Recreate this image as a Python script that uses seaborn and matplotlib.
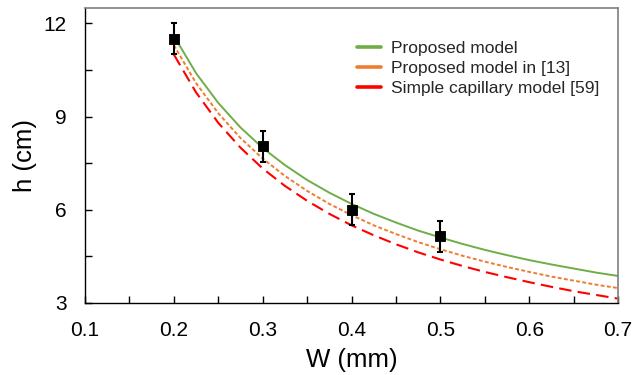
import matplotlib
matplotlib.use("Agg")
import matplotlib.pyplot as plt
import seaborn as sns
import pandas as pd
from matplotlib.lines import Line2D
from matplotlib.ticker import MultipleLocator

# Model curves
w_curve = [0.2, 0.225, 0.25, 0.275, 0.3, 0.325, 0.35, 0.375, 0.4, 0.425, 0.45,
           0.475, 0.5, 0.525, 0.55, 0.575, 0.6, 0.625, 0.65, 0.675, 0.7]
h_proposed = [11.60, 10.40, 9.44, 8.65, 7.99, 7.44, 6.96, 6.55, 6.19, 5.87, 5.59,
              5.33, 5.11, 4.90, 4.71, 4.54, 4.38, 4.24, 4.11, 3.98, 3.87]
h_ref13 = [11.30, 10.08, 9.11, 8.31, 7.65, 7.09, 6.61, 6.19, 5.83, 5.50, 5.22,
           4.96, 4.73, 4.52, 4.33, 4.16, 4.00, 3.85, 3.72, 3.59, 3.48]
h_simple = [11.00, 9.78, 8.80, 8.00, 7.33, 6.77, 6.29, 5.87, 5.50, 5.18, 4.89,
            4.63, 4.40, 4.19, 4.00, 3.83, 3.67, 3.52, 3.38, 3.26, 3.14]

# Experimental points
w_exp = [0.2, 0.3, 0.4, 0.5]
h_exp = [11.5, 8.05, 6.0, 5.15]
h_err = [0.5, 0.5, 0.5, 0.5]

labels = ["Proposed model", "Proposed model in [13]", "Simple capillary model [59]"]
colors = ["#70AD47", "#ED7D31", "#FF0000"]
xtick_vals = [0.1, 0.2, 0.3, 0.4, 0.5, 0.6, 0.7]
xtick_labels = ["0.1", "0.2", "0.3", "0.4", "0.5", "0.6", "0.7"]
ytick_vals = [3, 6, 9, 12]
ytick_labels = ["3", "6", "9", "12"]

sns.set_theme(style="white")
plt.rcParams["font.family"] = ["Liberation Sans", "DejaVu Sans"]

fig = plt.figure(figsize=(6.34, 3.75), dpi=100)
ax = fig.add_axes([0.134, 0.192, 0.841, 0.787])

n = len(w_curve)
df = pd.DataFrame({"W": w_curve * 3,
                   "h": h_proposed + h_ref13 + h_simple,
                   "model": [labels[0]] * n + [labels[1]] * n + [labels[2]] * n})

for lab, col in zip(labels, colors):
    sub = df[df["model"] == lab]
    sns.lineplot(data=sub, x="W", y="h", ax=ax, color=col, lw=1.4, legend=False, sort=True)

lines = ax.get_lines()
lines[1].set_dashes([2, 1.2])
lines[2].set_dashes([6, 3])
lines[2].set_linewidth(1.5)

ax.errorbar(w_exp, h_exp, yerr=h_err, fmt="none", ecolor="black", elinewidth=1.5,
            capsize=2, capthick=1.5, zorder=4)
sns.scatterplot(x=w_exp, y=h_exp, ax=ax, marker="s", s=62, color="black",
                edgecolor="black", zorder=5, legend=False)

ax.set_xlim(0.1, 0.7)
ax.set_ylim(3, 12.5)
ax.xaxis.set_minor_locator(MultipleLocator(0.05))
ax.yaxis.set_minor_locator(MultipleLocator(1.5))
ax.set_xticks(xtick_vals)
ax.set_xticklabels(xtick_labels)
ax.set_yticks(ytick_vals)
ax.set_yticklabels(ytick_labels)
ax.tick_params(which="both", direction="in", colors="black", labelsize=15, width=1,
               bottom=True, left=True, top=False, right=False)
ax.tick_params(which="major", length=5)
ax.tick_params(which="minor", length=5)
ax.tick_params(axis="y", which="major", pad=13)
ax.tick_params(axis="x", which="major", pad=13)

for s in ["left", "bottom"]:
    ax.spines[s].set_color("black")
    ax.spines[s].set_linewidth(1)
for s in ["top", "right"]:
    ax.spines[s].set_color("#7f7f7f")
    ax.spines[s].set_linewidth(1.2)

ax.set_xlabel("W (mm)", fontsize=18.5, color="black", labelpad=6)
ax.set_ylabel("h (cm)", fontsize=18.5, color="black", labelpad=5)

handles = [Line2D([0], [0], color=c, lw=2.6) for c in colors]
ax.legend(handles, labels, loc="upper right", bbox_to_anchor=(0.995, 0.94), frameon=False,
          fontsize=12.5, handlelength=1.4, handletextpad=0.6, labelspacing=0.27)

fig.savefig("out.png", dpi=100)
